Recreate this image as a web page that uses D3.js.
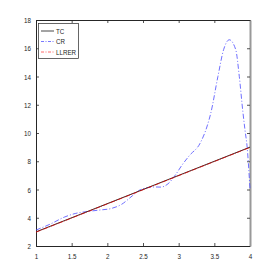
<!DOCTYPE html>
<html>
<head>
<meta charset="utf-8">
<script src="https://cdn.jsdelivr.net/npm/d3@7"></script>
<style>
  body { margin: 0; background: #fff; }
  svg { display: block; }
  text { font-family: "Liberation Sans", Arial, sans-serif; transform-box: fill-box; }
  .xlab text { transform: scaleX(0.78); transform-origin: center; }
  .ylab text { transform: scaleX(0.78); transform-origin: right; }
  .leg text { transform: scaleX(0.78); transform-origin: left; }
</style>
</head>
<body>
<svg id="chart" width="277" height="277"></svg>
<script>
// series
const tcX = [1, 4];
const tcY = [3, 9];
const llrerX = [1, 4];
const llrerY = [2.98, 8.98];
const crX = [1.0, 1.2, 1.4, 1.55, 1.7, 1.9, 2.05, 2.2, 2.35, 2.45, 2.55, 2.65, 2.75, 2.85, 2.95, 3.05, 3.15, 3.3, 3.4, 3.45, 3.55, 3.63, 3.71, 3.8, 3.85, 3.9, 3.93, 3.96, 4.0];
const crY = [3.13, 3.55, 4.05, 4.3, 4.43, 4.55, 4.65, 4.95, 5.55, 5.95, 6.12, 6.18, 6.17, 6.4, 7.0, 7.75, 8.4, 9.27, 10.5, 11.4, 14.0, 15.9, 16.6, 15.9, 14.0, 11.5, 10.2, 9.0, 6.0];
const xTicks = [1, 1.5, 2, 2.5, 3, 3.5, 4];
const yTicks = [2, 4, 6, 8, 10, 12, 14, 16, 18];
const legendNames = ["TC", "CR", "LLRER"];

const svg = d3.select("#chart");
const mLeft = 36, mRight = 250, mTop = 20, mBottom = 246;

const x = d3.scaleLinear().domain([1, 4]).range([mLeft, mRight]);
const y = d3.scaleLinear().domain([2, 18]).range([mBottom, mTop]);

const axisColor = "#262626";
const fontSize = "8px";

// axes with inward ticks (matlab look)
const xAxis = svg.append("g").attr("class", "xlab").attr("transform", `translate(0,${mBottom})`)
  .call(d3.axisBottom(x).tickValues(xTicks).tickSizeInner(-3).tickSizeOuter(0).tickPadding(7)
    .tickFormat(d3.format("")));
const xAxisTop = svg.append("g").attr("transform", `translate(0,${mTop})`)
  .call(d3.axisTop(x).tickValues(xTicks).tickSizeInner(-3).tickSizeOuter(0).tickFormat(""));
const yAxis = svg.append("g").attr("class", "ylab").attr("transform", `translate(${mLeft},0)`)
  .call(d3.axisLeft(y).tickValues(yTicks).tickSizeInner(-3).tickSizeOuter(0).tickPadding(5));
const yAxisRight = svg.append("g").attr("transform", `translate(${mRight},0)`)
  .call(d3.axisRight(y).tickValues(yTicks).tickSizeInner(-3).tickSizeOuter(0).tickFormat(""));

[xAxis, xAxisTop, yAxis, yAxisRight].forEach(g => {
  g.select(".domain").attr("stroke", axisColor).attr("stroke-width", 1);
  g.selectAll(".tick line").attr("stroke", axisColor).attr("stroke-width", 0.8);
  g.selectAll(".tick text").attr("fill", axisColor).style("font-size", fontSize);
});
yAxisRight.select(".domain").attr("stroke", "#999").attr("stroke-width", 2);

const line = d3.line().x(d => x(d[0])).y(d => y(d[1]));
const crLine = d3.line().curve(d3.curveMonotoneX).x(d => x(d[0])).y(d => y(d[1]));

svg.append("path")
  .datum(crX.map((v, i) => [v, crY[i]]))
  .attr("d", crLine)
  .attr("fill", "none")
  .attr("stroke", "#4a4aff")
  .attr("stroke-width", 0.8)
  .attr("stroke-dasharray", "5,2,1,2");

svg.append("path")
  .datum(tcX.map((v, i) => [v, tcY[i]]))
  .attr("d", line)
  .attr("fill", "none")
  .attr("stroke", "#333")
  .attr("stroke-width", 1);

svg.append("path")
  .datum(llrerX.map((v, i) => [v, llrerY[i]]))
  .attr("d", line)
  .attr("fill", "none")
  .attr("stroke", "#e00000")
  .attr("stroke-width", 0.8)
  .attr("stroke-dasharray", "5,1,1,1");

// legend
const legendColors = ["#333", "#6a6aff", "#ff5a5a"];
const legendDash = [null, "3,1.5,1,1.5", "3,1.5,1,1.5"];
const lg = svg.append("g").attr("class", "leg");
lg.append("rect").attr("x", 38.5).attr("y", 23.5).attr("width", 40).attr("height", 35)
  .attr("fill", "#fff").attr("stroke", axisColor).attr("stroke-width", 0.7);
legendNames.forEach((name, i) => {
  const yy = 31 + i * 10.5;
  lg.append("line").attr("x1", 41).attr("x2", 54).attr("y1", yy).attr("y2", yy)
    .attr("stroke", legendColors[i]).attr("stroke-width", 0.9)
    .attr("stroke-dasharray", legendDash[i]);
  lg.append("text").attr("x", 56).attr("y", yy + 3).text(name)
    .attr("fill", axisColor).style("font-size", fontSize);
});
</script>
</body>
</html>
